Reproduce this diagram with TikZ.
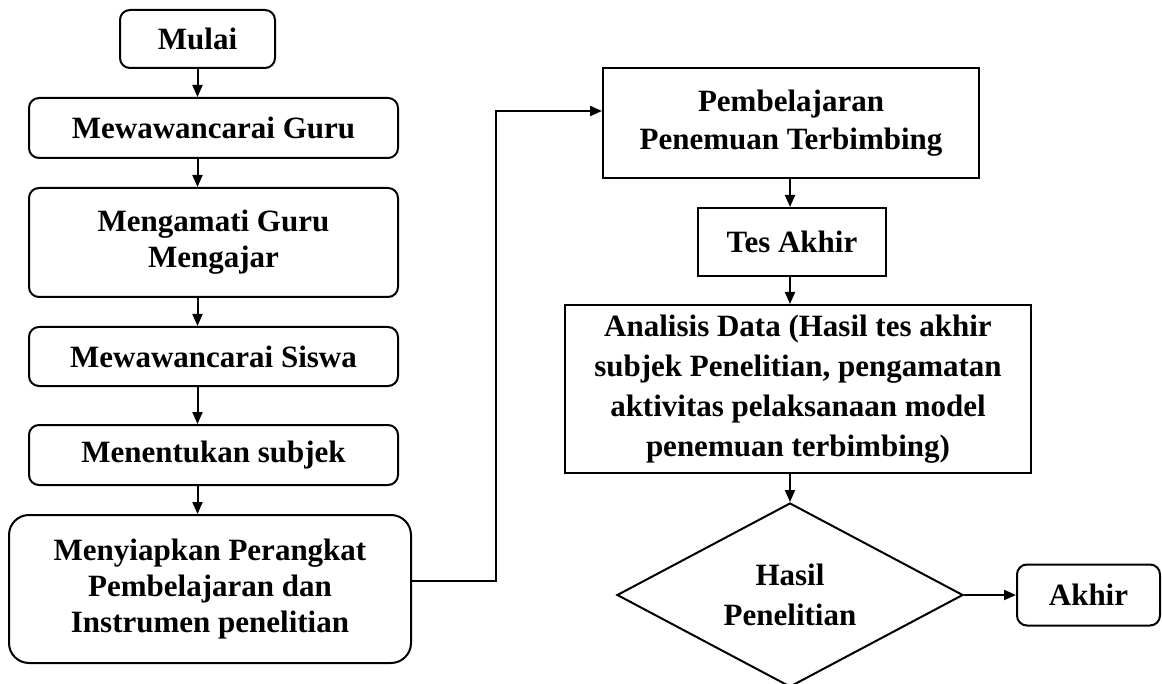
\documentclass[tikz,border=0pt]{standalone}
\usepackage{fontspec}
\setmainfont{Liberation Serif}
\usetikzlibrary{shapes.geometric,arrows.meta}

\begin{document}
\begin{tikzpicture}[x=0.5pt, y=-0.5pt,
    every node/.style={font=\fontsize{15.5}{18}\selectfont\bfseries, align=center, line width=1pt, inner sep=0pt},
    bulat/.style={draw, rounded corners=5pt},
    kotak/.style={draw},
    belah/.style={draw, diamond, aspect=1.88, minimum width=173pt, minimum height=92pt},
    panah/.style={-{Triangle[length=6pt,width=5pt]}, line width=1pt}]
                \useasboundingbox (0,0) rectangle (1162,684);
                % kolom kiri
                \node[bulat, minimum width=77.5pt, minimum height=29pt] (mulai) at (197.5,39) {Mulai};
                \node[bulat, minimum width=184.5pt, minimum height=30pt] (wguru) at (213.5,128) {Mewawancarai Guru};
                \node[bulat, minimum width=184.5pt, minimum height=54.5pt] (amati) at (213.5,242.5) {Mengamati Guru\\Mengajar};
                \node[bulat, minimum width=184.5pt, minimum height=29.5pt] (wsiswa) at (213.5,356.5) {Mewawancarai Siswa};
                \node[bulat, minimum width=184.5pt, minimum height=30pt] (subjek) at (213.5,455) {Menentukan subjek};
                \node[draw, rounded corners=10pt, minimum width=201pt, minimum height=74pt] (siapkan) at (210,589) {Menyiapkan Perangkat\\Pembelajaran dan\\Instrumen penelitian};
                % kolom kanan
                \node[kotak, minimum width=188pt, minimum height=55pt, font=\fontsize{15.5}{19}\selectfont\bfseries] (pemb) at (791,123) {Pembelajaran\\Penemuan Terbimbing};
                \node[kotak, minimum width=94pt, minimum height=34pt] (tes) at (792,242) {Tes Akhir};
                \node[kotak, minimum width=233pt, minimum height=84pt, font=\fontsize{15.5}{20}\selectfont\bfseries] (analisis) at (798,389) {Analisis Data (Hasil tes akhir\\subjek Penelitian, pengamatan\\aktivitas pelaksanaan model\\penemuan terbimbing)};
                \node[belah, font=\fontsize{15.5}{20}\selectfont\bfseries] (hasil) at (790,595) {Hasil\\Penelitian};
                \node[bulat, minimum width=71.5pt, minimum height=30.5pt] (akhir) at (1088.5,595) {Akhir};
                \coordinate (belok) at (496,300);
                % panah
                \draw[panah] (mulai.south) -- (mulai.south |- wguru.north);
                \draw[panah] (mulai.south |- wguru.south) -- (mulai.south |- amati.north);
                \draw[panah] (mulai.south |- amati.south) -- (mulai.south |- wsiswa.north);
                \draw[panah] (mulai.south |- wsiswa.south) -- (mulai.south |- subjek.north);
                \draw[panah] (mulai.south |- subjek.south) -- (mulai.south |- siapkan.north);
                \draw[panah] ([yshift=4pt]siapkan.east) -| (belok) |- ([yshift=6pt]pemb.west);
                \draw[panah] (hasil.north |- pemb.south) -- (hasil.north |- tes.north);
                \draw[panah] (hasil.north |- tes.south) -- (hasil.north |- analisis.north);
                \draw[panah] (hasil.north |- analisis.south) -- (hasil.north);
                \draw[panah] (hasil.east) -- (akhir.west);
            \end{tikzpicture}
\end{document}
